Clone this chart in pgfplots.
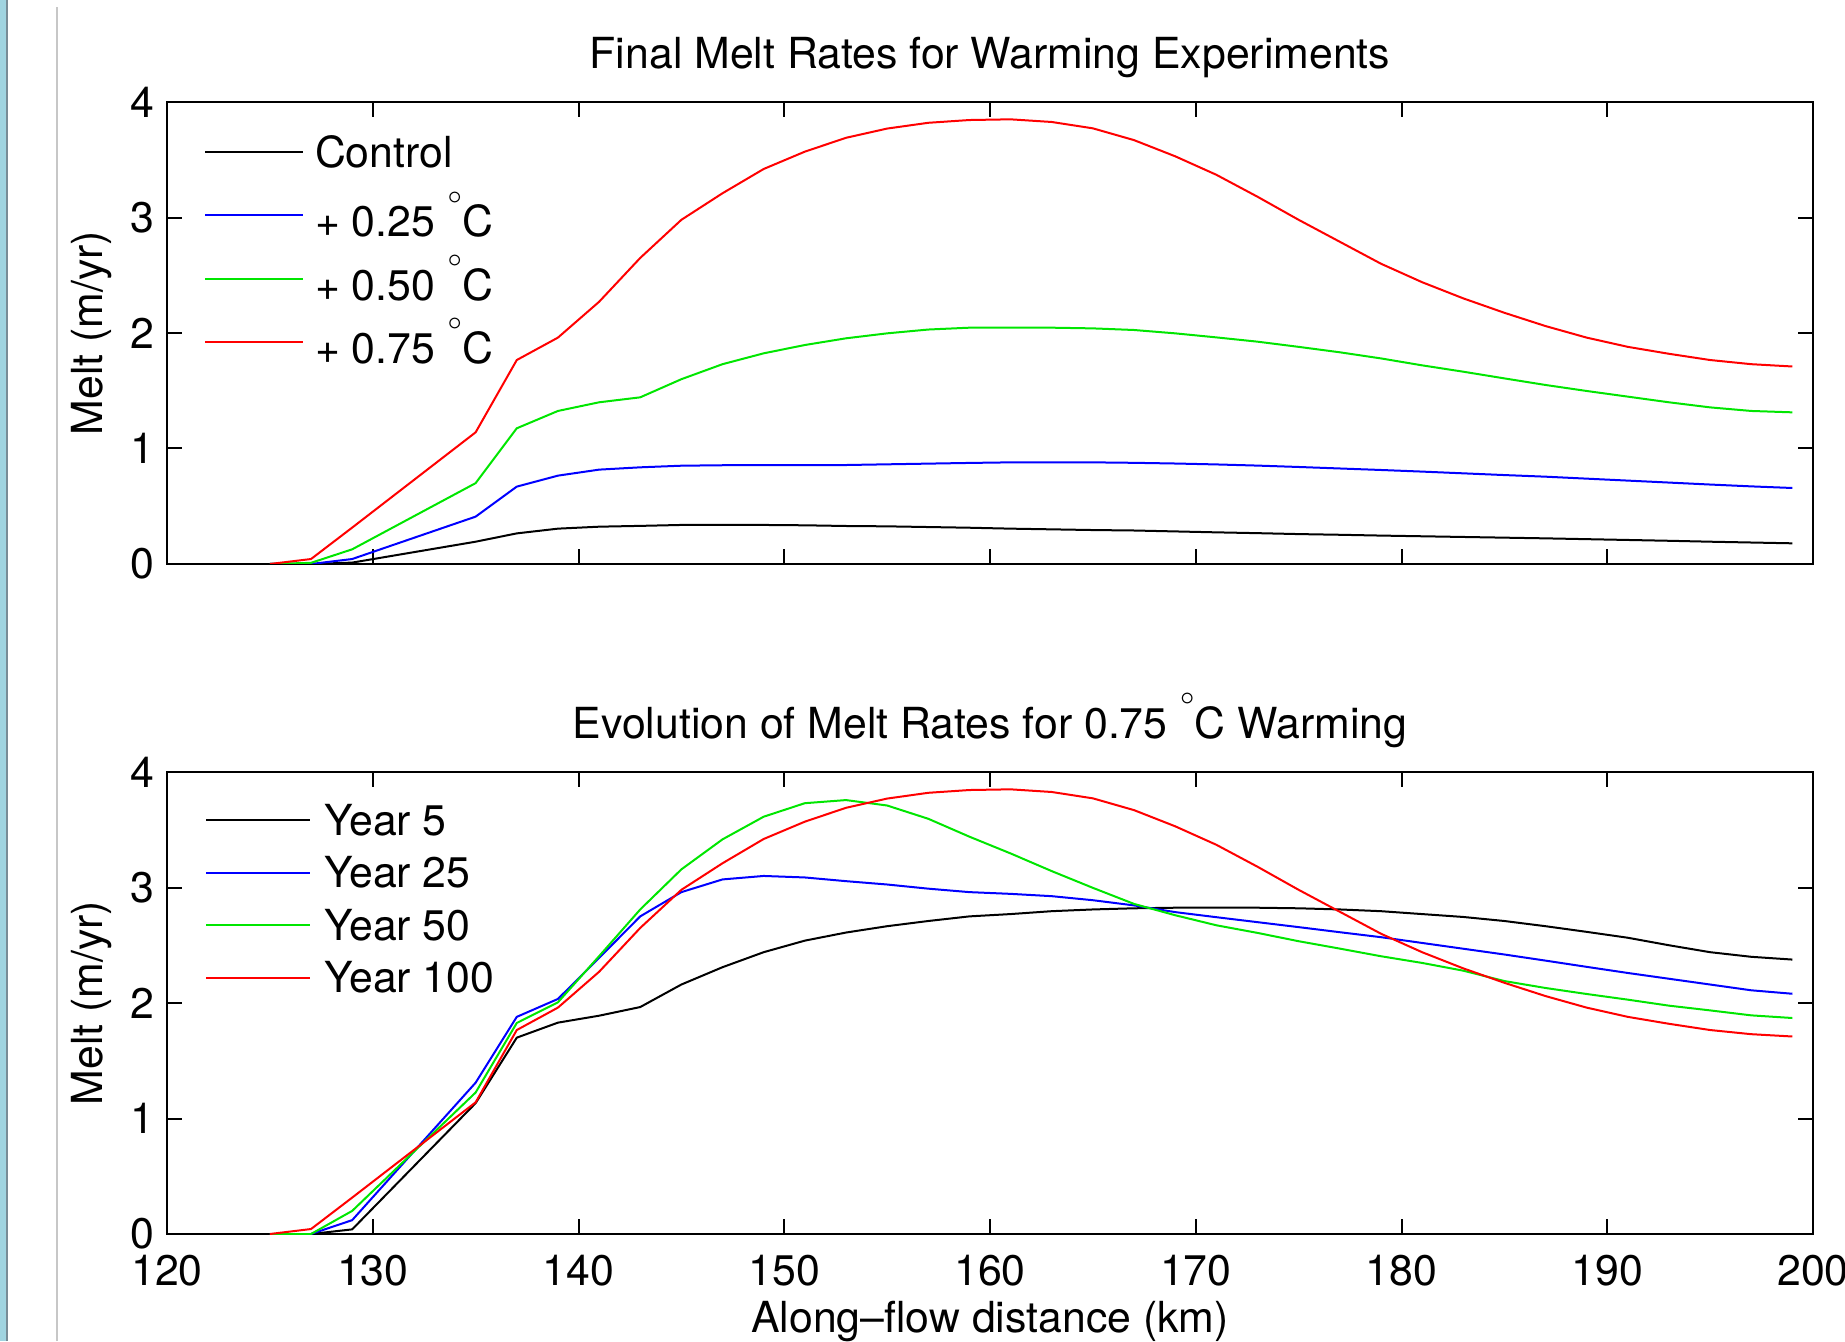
\documentclass[border=0pt]{standalone}
\usepackage{fontspec}
\setmainfont{TeX Gyre Heros}
\usepackage{pgfplots}
\usepackage{pgfplotstable}
\pgfplotsset{compat=1.18}

\definecolor{mblue}{RGB}{0,0,255}
\definecolor{mgreen}{RGB}{0,230,0}
\definecolor{mred}{RGB}{255,0,0}
\definecolor{strip}{RGB}{160,212,224}
\definecolor{stripedge}{RGB}{120,140,150}

\newcommand{\fs}{\fontsize{10.7}{12.8}\selectfont}
\newcommand{\dg}{\smash{\raisebox{8.4pt}{\fontsize{5.6}{6}\selectfont$\circ$}}}
\newcommand{\lgent}[1]{\raisebox{0pt}[9pt][1.5pt]{#1}}
\newcommand{\lgdeg}[1]{\raisebox{-1.6pt}[9pt][1.5pt]{#1}}

% final melt rates (km, m/yr)
\pgfplotstableread{
x     ctrl   pa     pb     pc
125   0      0      0      0
127   0      0      0.01   0.043
129   0.012  0.043  0.127  0.315
135   0.193  0.41   0.70   1.14
137   0.265  0.67   1.175  1.766
139   0.306  0.765  1.325  1.96
141   0.323  0.817  1.40   2.27
143   0.33   0.837  1.443  2.65
145   0.338  0.851  1.60   2.98
147   0.338  0.855  1.73   3.21
149   0.338  0.857  1.824  3.42
151   0.335  0.857  1.896  3.57
153   0.329  0.857  1.954  3.69
155   0.326  0.863  1.997  3.77
157   0.32   0.869  2.03   3.82
159   0.314  0.875  2.046  3.844
161   0.306  0.88   2.046  3.85
163   0.30   0.88   2.046  3.827
165   0.294  0.88   2.04   3.772
167   0.29   0.876  2.026  3.67
169   0.282  0.87   1.997  3.53
171   0.274  0.862  1.962  3.37
173   0.267  0.852  1.925  3.18
175   0.259  0.84   1.88   2.98
177   0.253  0.827  1.833  2.79
179   0.246  0.814  1.78   2.60
181   0.24   0.80   1.72   2.44
183   0.234  0.785  1.665  2.30
185   0.228  0.77   1.607  2.175
187   0.222  0.756  1.55   2.06
189   0.215  0.739  1.498  1.96
191   0.208  0.722  1.449  1.88
193   0.201  0.705  1.40   1.82
195   0.193  0.688  1.356  1.766
197   0.186  0.672  1.325  1.73
199   0.179  0.658  1.313  1.71
}\finaltab

% evolution for 0.75 C warming
\pgfplotstableread{
x     ya     yb     yc     yd
125   0      0      0      0
127   0      0      0      0.043
129   0.04   0.12   0.20   0.315
135   1.133  1.31   1.225  1.14
137   1.70   1.88   1.827  1.766
139   1.83   2.035  2.006  1.96
141   1.89   2.39   2.405  2.27
143   1.965  2.75   2.81   2.65
145   2.16   2.96   3.157  2.98
147   2.31   3.07   3.417  3.21
149   2.44   3.10   3.613  3.42
151   2.54   3.087  3.73   3.57
153   2.61   3.055  3.757  3.69
155   2.665  3.026  3.71   3.77
157   2.71   2.99   3.595  3.82
159   2.75   2.96   3.44   3.844
161   2.77   2.945  3.295  3.85
163   2.795  2.925  3.142  3.827
165   2.81   2.89   2.997  3.772
167   2.82   2.845  2.858  3.67
169   2.825  2.787  2.76   3.53
171   2.825  2.743  2.673  3.37
173   2.825  2.70   2.607  3.18
175   2.82   2.657  2.535  2.98
177   2.81   2.613  2.471  2.79
179   2.795  2.57   2.405  2.60
181   2.77   2.52   2.347  2.44
183   2.745  2.47   2.28   2.30
185   2.71   2.42   2.19   2.175
187   2.665  2.367  2.13   2.06
189   2.616  2.313  2.078  1.96
191   2.565  2.26   2.029  1.88
193   2.50   2.21   1.977  1.82
195   2.44   2.16   1.936  1.766
197   2.40   2.11   1.893  1.73
199   2.376  2.08   1.87   1.71
}\evotab

\pgfplotsset{
  meltax/.style={
    scale only axis, width=411.5pt, height=115.5pt, anchor=south west,
    xmin=120, xmax=200, ymin=0, ymax=4,
    xtick={120,130,...,200}, ytick={0,1,2,3,4},
    minor tick num=0,
    tick align=inside, major tick length=3.75pt,
    axis line style={line width=0.6pt},
    every tick/.style={black, line width=0.5pt},
    tick label style={font=\fs},
    /pgf/number format/assume math mode=true,
    yticklabel style={anchor=east, inner sep=0pt, xshift=-3pt},
    xticklabel style={anchor=base, inner sep=0pt, yshift=-12.75pt},
    every axis title/.style={at={(0.5,1)}, anchor=base, yshift=8.5pt, font=\fs},
    every axis y label/.style={at={(axis description cs:-0.0456,0.5)}, rotate=90, anchor=center, font=\fs},
    every axis x label/.style={at={(axis description cs:0.5,0)}, anchor=base, yshift=-24.5pt, font=\fs},
    ylabel={Melt (m/yr)},
    legend cell align=left,
    every axis plot/.append style={line width=0.5pt},
  }
}

\begin{document}
\begin{tikzpicture}[x=1pt,y=1pt]
\fill[strip] (0,0) rectangle (1.6,335.25);
\draw[stripedge, line width=0.5pt] (1.75,0) -- (1.75,335.25);
\draw[black!22, line width=0.3pt] (14.25,0) -- (14.25,333.5);

\begin{axis}[meltax, at={(41.75pt,194.25pt)},
  xticklabels={},
  title={Final Melt Rates for Warming Experiments},
  legend image code/.code={\draw[#1] (0pt,0pt) -- (24.5pt,0pt);},
  legend style={draw=none, fill=none, inner sep=0pt, outer sep=0pt,
    at={(axis description cs:0,1)}, anchor=north west, xshift=9.25pt, yshift=-7.3pt,
    font=\fs, nodes={inner sep=0pt}, column sep=2.75pt, row sep=5.3pt},
]
\addplot[black] table[x=x, y=ctrl] {\finaltab};
\addlegendentry{\lgent{Control}}
\addplot[mblue] table[x=x, y=pa] {\finaltab};
\addlegendentry{\lgdeg{+ 0.25 \dg C}}
\addplot[mgreen] table[x=x, y=pb] {\finaltab};
\addlegendentry{\lgdeg{+ 0.50 \dg C}}
\addplot[mred] table[x=x, y=pc] {\finaltab};
\addlegendentry{\lgdeg{+ 0.75 \dg C}}
\end{axis}

\begin{axis}[meltax, at={(41.75pt,26.75pt)},
  title={Evolution of Melt Rates for 0.75 \dg C Warming},
  xlabel={Along\textendash flow distance (km)},
  legend image code/.code={\draw[#1] (0pt,0pt) -- (26pt,0pt);},
  legend style={draw=none, fill=none, inner sep=0pt, outer sep=0pt,
    at={(axis description cs:0,1)}, anchor=north west, xshift=9.5pt, yshift=-6.75pt,
    font=\fs, nodes={inner sep=0pt}, column sep=3.4pt, row sep=2.65pt},
]
\addplot[black] table[x=x, y=ya] {\evotab};
\addlegendentry{\lgent{Year 5}}
\addplot[mblue] table[x=x, y=yb] {\evotab};
\addlegendentry{\lgent{Year 25}}
\addplot[mgreen] table[x=x, y=yc] {\evotab};
\addlegendentry{\lgent{Year 50}}
\addplot[mred] table[x=x, y=yd] {\evotab};
\addlegendentry{\lgent{Year 100}}
\end{axis}

\pgfresetboundingbox
\path[use as bounding box] (0,0) rectangle (461.25,335.25);
\end{tikzpicture}
\end{document}
